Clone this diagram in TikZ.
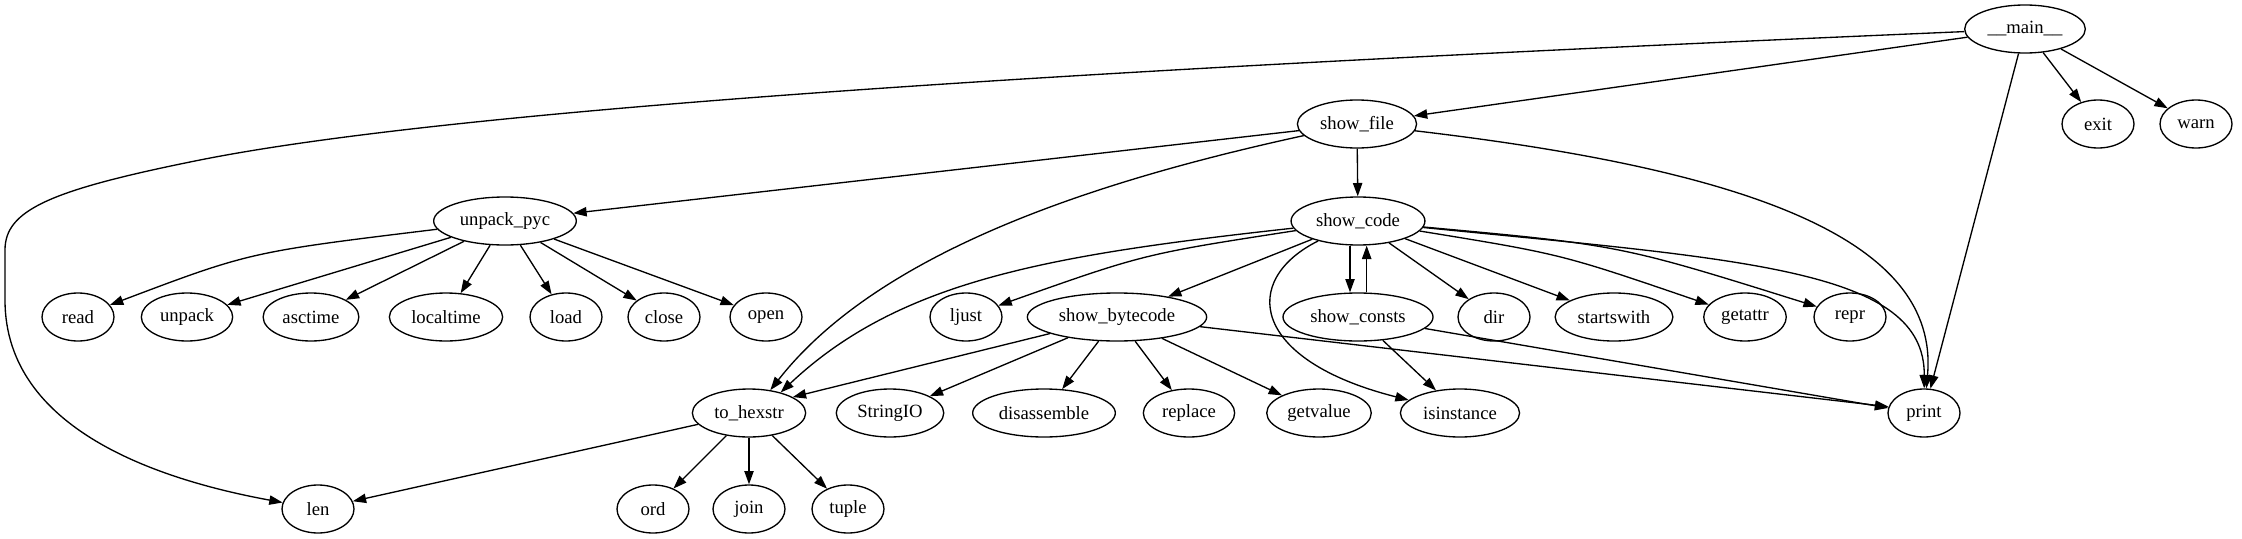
\documentclass[tikz,border=0pt]{standalone}
\usepackage{fontspec}
\setmainfont{Liberation Serif}
\usetikzlibrary{shapes.geometric,arrows.meta}

\begin{document}
\begin{tikzpicture}[
    x=0.75pt, y=-0.75pt,
    fn/.style={ellipse, draw, line width=1pt, minimum width=54pt, minimum height=36pt,
        inner xsep=4pt, font=\fontsize{14}{16}\selectfont},
    call/.style={-{Triangle[length=10pt, width=7pt]}, line width=1pt},
]
\useasboundingbox (0,0) rectangle (2242,539);
% rank 0 and 1
\node[fn] (main) at (2025,29) {\_\_main\_\_};
\node[fn] (showfile) at (1357,124) {show\_file};
\node[fn] (exit) at (2098,124) {exit};
\node[fn] (warn) at (2196,124) {warn};
% rank 2
\node[fn] (unpackpyc) at (505,221) {unpack\_pyc};
\node[fn] (showcode) at (1358,221) {show\_code};
% rank 3
\node[fn] (read) at (78,317) {read};
\node[fn] (unpack) at (187,317) {unpack};
\node[fn] (asctime) at (311,317) {asctime};
\node[fn] (localtime) at (446,317) {localtime};
\node[fn] (load) at (566,317) {load};
\node[fn] (close) at (664,317) {close};
\node[fn] (open) at (766,317) {open};
\node[fn] (ljust) at (966,317) {ljust};
\node[fn] (showbytecode) at (1117,317) {show\_bytecode};
\node[fn] (showconsts) at (1358,317) {show\_consts};
\node[fn] (dir) at (1494,317) {dir};
\node[fn] (startswith) at (1614,317) {startswith};
\node[fn] (getattr) at (1745,317) {getattr};
\node[fn] (repr) at (1850,317) {repr};
% rank 4
\node[fn] (tohexstr) at (749,413) {to\_hexstr};
\node[fn] (stringio) at (890,413) {StringIO};
\node[fn] (disassemble) at (1044,413) {disassemble};
\node[fn] (replace) at (1189,413) {replace};
\node[fn] (getvalue) at (1319,413) {getvalue};
\node[fn] (isinstance) at (1460,413) {isinstance};
\node[fn] (print) at (1924,413) {print};
% rank 5
\node[fn] (len) at (318,509) {len};
\node[fn] (ord) at (653,509) {ord};
\node[fn] (join) at (749,509) {join};
\node[fn] (tuple) at (848,509) {tuple};

% __main__
\draw[call] (main) .. controls (1300,60) and (500,100) .. (200,160)
    .. controls (50,190) and (5,210) .. (5,250) -- (5,300)
    .. controls (5,430) and (160,480) .. (len);
\draw[call] (main) -- (showfile);
\draw[call] (main) -- (exit);
\draw[call] (main) -- (warn);
\draw[call] (main) -- (print);
% show_file
\draw[call] (showfile) -- (unpackpyc);
\draw[call] (showfile) .. controls (1100,180) and (880,250) .. (tohexstr.47);
\draw[call] (showfile) -- (showcode);
\draw[call] (showfile) .. controls (1750,170) and (1940,240) .. (print);
% unpack_pyc
\draw[call] (unpackpyc) .. controls (250,252) .. (read);
\draw[call] (unpackpyc) -- (unpack);
\draw[call] (unpackpyc) -- (asctime);
\draw[call] (unpackpyc) -- (localtime);
\draw[call] (unpackpyc) -- (load);
\draw[call] (unpackpyc) -- (close);
\draw[call] (unpackpyc) -- (open);
% show_code
\draw[call] (showcode) .. controls (1050,255) and (900,280) .. (tohexstr.33);
\draw[call] (showcode) .. controls (1144,254) .. (ljust);
\draw[call] (showcode) -- (showbytecode);
\draw[call] (showcode) .. controls (1240,280) and (1250,360) .. (isinstance);
\draw[call] ([xshift=-6pt]showcode.south) -- ([xshift=-6pt]showconsts.north);
\draw[call] ([xshift=6.5pt]showconsts.north) -- ([xshift=6.5pt]showcode.south);
\draw[call] (showcode) -- (dir);
\draw[call] (showcode) -- (startswith);
\draw[call] (showcode) .. controls (1561,254) .. (getattr);
\draw[call] (showcode) .. controls (1620,245) .. (repr);
\draw[call] (showcode) .. controls (1750,260) and (1925,270) .. (print);
% show_bytecode
\draw[call] (showbytecode) -- (tohexstr.20);
\draw[call] (showbytecode) -- (stringio);
\draw[call] (showbytecode) -- (disassemble);
\draw[call] (showbytecode) -- (replace);
\draw[call] (showbytecode) -- (getvalue);
\draw[call] (showbytecode) -- (print.170);
% show_consts
\draw[call] (showconsts) -- (isinstance);
\draw[call] (showconsts) -- (print.172);
% to_hexstr
\draw[call] (tohexstr) -- (len);
\draw[call] (tohexstr) -- (ord);
\draw[call] (tohexstr) -- (join);
\draw[call] (tohexstr) -- (tuple);
\end{tikzpicture}
\end{document}
